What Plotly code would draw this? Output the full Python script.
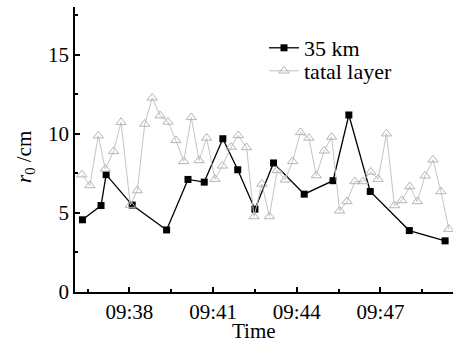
import plotly.graph_objects as go

DAY = "2020-01-01 "

# 35 km series
t35 = ["09:36:19", "09:36:59", "09:37:10", "09:38:06", "09:39:20", "09:40:06",
       "09:40:41", "09:41:21", "09:41:53", "09:42:30", "09:43:10", "09:44:16",
       "09:45:18", "09:45:52", "09:46:38", "09:48:02", "09:49:19"]
r35 = [4.56, 5.46, 7.41, 5.49, 3.92, 7.11, 6.94, 9.68, 7.72, 5.23, 8.15, 6.18,
       7.03, 11.18, 6.35, 3.88, 3.23]

# total layer series
t_tot = ["09:36:18", "09:36:35", "09:36:53", "09:37:08", "09:37:26", "09:37:42",
         "09:38:02", "09:38:17", "09:38:33", "09:38:49", "09:39:06", "09:39:23",
         "09:39:40", "09:39:57", "09:40:13", "09:40:30", "09:40:46", "09:41:04",
         "09:41:20", "09:41:39", "09:41:54", "09:42:12", "09:42:28", "09:42:45",
         "09:43:01", "09:43:18", "09:43:35", "09:43:51", "09:44:08", "09:44:26",
         "09:44:42", "09:44:59", "09:45:15", "09:45:32", "09:45:48", "09:46:05",
         "09:46:22", "09:46:39", "09:46:55", "09:47:13", "09:47:30", "09:47:46",
         "09:48:03", "09:48:19", "09:48:36", "09:48:53", "09:49:10", "09:49:27"]
r_tot = [7.41, 6.73, 9.87, 7.77, 8.88, 10.72, 5.49, 6.41, 10.61, 12.26, 11.14, 10.74,
         9.58, 8.25, 11.03, 8.31, 9.73, 7.13, 7.97, 9.16, 9.89, 9.13, 4.77, 6.82,
         4.77, 7.68, 7.09, 8.25, 10.08, 9.73, 7.36, 8.92, 9.79, 5.13, 5.72, 6.98,
         6.98, 7.58, 7.13, 10.00, 5.46, 5.78, 6.66, 5.72, 7.34, 8.35, 6.35, 3.97]

x_ticks = ["09:38", "09:41", "09:44", "09:47"]
x_minor = ["09:36:30", "09:39:30", "09:42:30", "09:45:30", "09:48:30"]
y_ticks = [0, 5, 10, 15]

FONT = "Liberation Serif"

fig = go.Figure()
fig.add_trace(go.Scatter(
    x=[DAY + t for t in t35], y=r35, mode="lines+markers", name="35 km",
    line=dict(color="black", width=1.3),
    marker=dict(symbol="square", size=7, color="black"),
    legend="legend",
))
fig.add_trace(go.Scatter(
    x=[DAY + t for t in t_tot], y=r_tot, mode="lines+markers", name="tatal layer",
    line=dict(color="#c4c4c4", width=1),
    marker=dict(symbol="triangle-up-open", size=9, color="#b4b4b4", line=dict(width=1)),
    legend="legend2",
))

leg_common = dict(xanchor="left", yanchor="middle", bgcolor="rgba(0,0,0,0)",
                  font=dict(family=FONT, size=22), itemwidth=30)
fig.update_layout(
    width=459, height=344,
    margin=dict(l=75, r=6, t=7, b=52),
    paper_bgcolor="white", plot_bgcolor="white",
    font=dict(family=FONT, size=20, color="black"),
    showlegend=True,
    legend=dict(x=(264 - 75) / 378, y=1 - (48 - 7) / 285, **leg_common),
    legend2=dict(x=(264 - 75) / 378, y=1 - (71 - 7) / 285, **leg_common),
)
fig.update_xaxes(
    type="date",
    range=[DAY + "09:36:03", DAY + "09:49:36"],
    tickvals=[DAY + t for t in x_ticks], ticktext=x_ticks,
    ticks="inside", ticklen=5, tickwidth=1.5, tickcolor="black",
    showline=True, linecolor="black", linewidth=1.8,
    showgrid=False, zeroline=False,
    minor=dict(tickvals=[DAY + t for t in x_minor],
               ticks="inside", ticklen=3, tickwidth=1.5, tickcolor="black", showgrid=False),
    tickfont=dict(family=FONT, size=21),
)
fig.update_yaxes(
    range=[0, 18],
    tickvals=y_ticks,
    ticks="inside", ticklen=5, tickwidth=1.5, tickcolor="black",
    showline=True, linecolor="black", linewidth=1.8,
    showgrid=False, zeroline=False,
    minor=dict(dtick=2.5, tick0=0, ticks="inside", ticklen=3, tickwidth=1.5,
               tickcolor="black", showgrid=False),
    tickfont=dict(family=FONT, size=21),
)
fig.add_annotation(text="Time", xref="paper", yref="paper",
                   x=(254 - 75) / 378, y=-(331 - 292) / 285, xanchor="center", yanchor="middle",
                   showarrow=False, font=dict(family=FONT, size=21))
fig.add_annotation(text="<i>r</i><sub>0</sub> /cm", xref="paper", yref="paper",
                   x=-(75 - 25) / 378, y=1 - (157 - 7) / 285, xanchor="center", yanchor="middle",
                   textangle=-90, showarrow=False, font=dict(family=FONT, size=21))

fig.write_html("out.html", config={"displayModeBar": False},
               post_script="document.body.style.margin='0';document.body.style.padding='0';")
